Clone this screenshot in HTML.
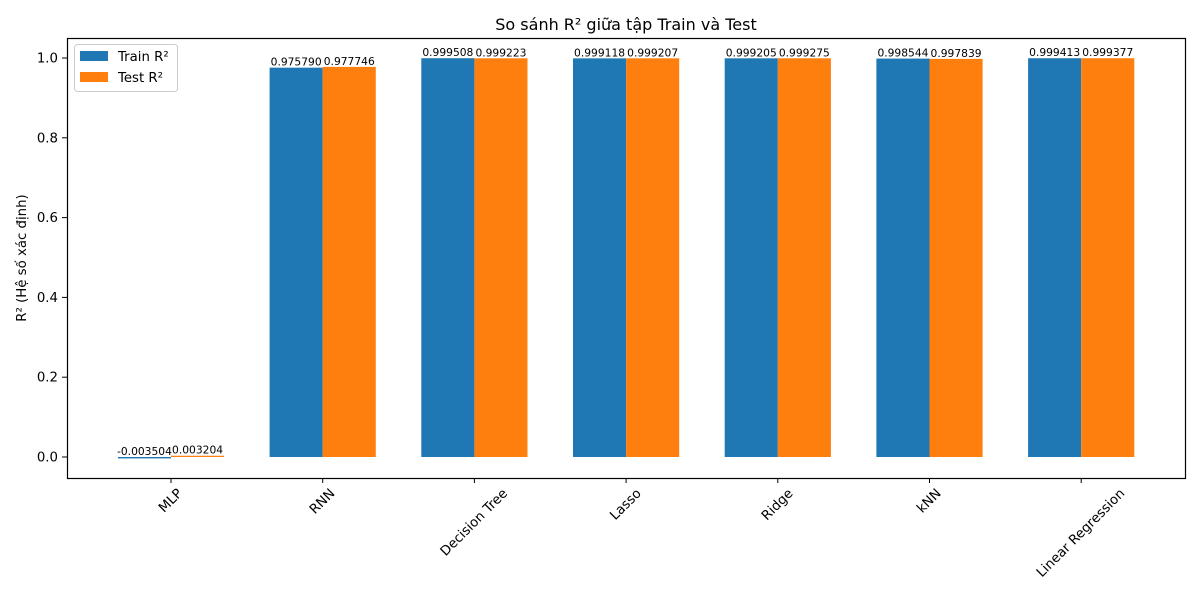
<!DOCTYPE html>
<html><head><meta charset="utf-8"><style>
body{margin:0;background:#fff}
svg{font-family:"DejaVu Sans","Liberation Sans",sans-serif}
</style></head><body>
<svg id="c" width="1200" height="600" viewBox="0 0 1200 600">
<rect x="0" y="0" width="1200" height="600" fill="#fff"/>
<text x="626" y="30" font-size="16" text-anchor="middle">So sánh R² giữa tập Train và Test</text>
<g id="bars"></g>
<g id="xt"></g>
<g id="yt"></g>
<rect x="67.5" y="38.5" width="1118" height="440" fill="none" stroke="#000" stroke-width="1.2"/>
<text transform="translate(26,258) rotate(-90)" font-size="13.3" text-anchor="middle">R² (Hệ số xác định)</text>
<g>
<rect x="74.5" y="44.5" width="103" height="47" rx="3" fill="#fff" stroke="#ccc"/>
<g><rect x="80" y="51" width="28" height="10" fill="#1f77b4"/><text x="118" y="61" font-size="13.3">Train R²</text></g>
<g><rect x="80" y="72" width="28" height="10" fill="#ff7f0e"/><text x="118" y="82" font-size="13.3">Test R²</text></g>
</g>
</svg>
<script>
const categories=["MLP","RNN","Decision Tree","Lasso","Ridge","kNN","Linear Regression"];
const trainR2=[-0.003504,0.975790,0.999508,0.999118,0.999205,0.998544,0.999413];
const testR2=[0.003204,0.977746,0.999223,0.999207,0.999275,0.997839,0.999377];
const trainLabels=["-0.003504","0.975790","0.999508","0.999118","0.999205","0.998544","0.999413"];
const testLabels=["0.003204","0.977746","0.999223","0.999207","0.999275","0.997839","0.999377"];
const yTicks=[0.0,0.2,0.4,0.6,0.8,1.0];
const NS="http://www.w3.org/2000/svg";
const xS=i=>171+i*151.7;
const yS=v=>457-v*399;
const bw=53.1;
function mk(t,a,p){const e=document.createElementNS(NS,t);for(const k in a)e.setAttribute(k,a[k]);p.appendChild(e);return e;}
const bars=document.getElementById('bars'),xt=document.getElementById('xt'),yt=document.getElementById('yt');
categories.forEach((c,i)=>{
 [[trainR2,trainLabels,'#1f77b4',-1,'train'],[testR2,testLabels,'#ff7f0e',0,'test']].forEach(([arr,lab,col,off,nm])=>{
  const v=arr[i],x0=xS(i)+off*bw,y0=Math.min(yS(v),yS(0)),h=Math.abs(yS(v)-yS(0));
  const r=mk('rect',{x:x0,y:y0,width:bw,height:Math.max(h,0.8),fill:col},bars);
  
  
  const t=mk('text',{x:x0+bw/2,y:Math.min(yS(v),yS(0))-2,'font-size':'10.7','text-anchor':'middle'},bars);
  t.textContent=lab[i];
  
  
 });
 mk('line',{x1:xS(i),x2:xS(i),y1:478,y2:483,stroke:'#000'},xt);
 const t=mk('text',{x:0,y:0,'font-size':'13.3','text-anchor':'middle','dominant-baseline':'central'},xt);
 t.textContent=c;
 
 
 const L=t.getComputedTextLength();
 const cy=487+(L*0.707+13*0.707)/2;
 t.setAttribute('transform',`translate(${xS(i)},${cy}) rotate(-45)`);
});
yTicks.forEach(v=>{
 mk('line',{x1:62,x2:67.5,y1:yS(v),y2:yS(v),stroke:'#000'},yt);
 const t=mk('text',{x:58,y:yS(v)+4.5,'font-size':'13.3','text-anchor':'end'},yt);
 t.textContent=v.toFixed(1);
 
 
});
</script>
</body></html>
